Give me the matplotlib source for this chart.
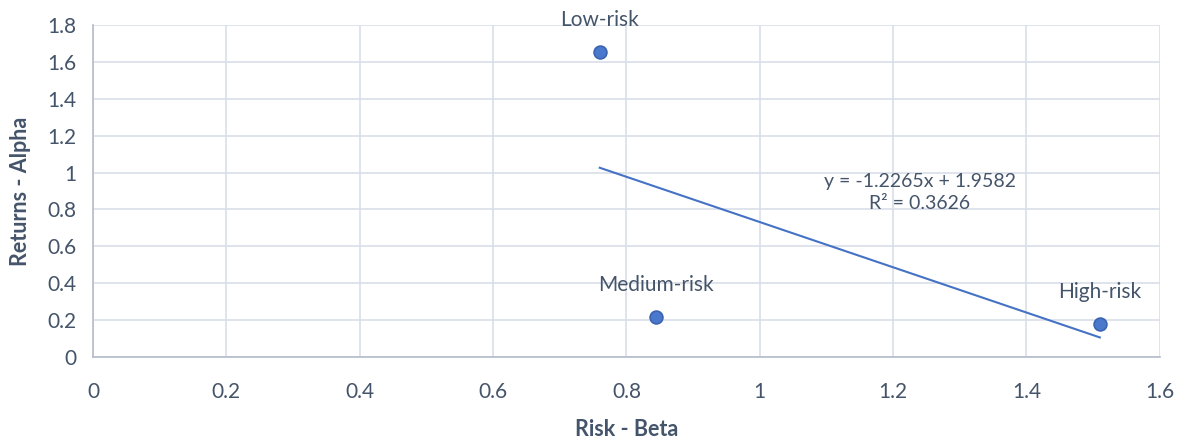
import matplotlib
matplotlib.use('Agg')
import matplotlib.pyplot as plt
import numpy as np

# ── Data ─────────────────────────────────────────────────────────────────────
labels = ['Low-risk', 'Medium-risk', 'High-risk']
beta   = [0.76, 0.845, 1.51]
alpha  = [1.655, 0.215, 0.18]

slope, intercept, r2 = -1.2265, 1.9582, 0.3626

text_col = '#44546A'
blue     = '#4472C4'
plt.rcParams['font.family'] = ['Lato', 'DejaVu Sans']

fig = plt.figure(figsize=(11.88, 4.4), dpi=100)
ax = fig.add_axes([0.0783, 0.1886, 0.898, 0.7546])

ax.scatter(beta, alpha, s=85, color='#4A78CC', edgecolors='#3A64B0',
           linewidths=1.2, zorder=3)
for b, a, lab in zip(beta, alpha, labels):
    ax.annotate(lab, xy=(b, a), xytext=(0, 23), textcoords='offset points',
                ha='center', va='center', fontsize=15, color=text_col)

# linear trendline over the data range
xs = np.array([min(beta), max(beta)])
ax.plot(xs, slope * xs + intercept, color=blue, lw=1.5, zorder=2)
ax.text(1.24, 0.89, f'y = {slope}x + {intercept}\nR² = {r2}',
        ha='center', va='center', fontsize=14, color=text_col, linespacing=1.35)

ax.set_xlim(0, 1.6)
ax.set_ylim(0, 1.8)
ax.set_xticks(np.arange(0, 1.61, 0.2))
ax.set_yticks(np.arange(0, 1.81, 0.2))
ax.xaxis.set_major_formatter(plt.FuncFormatter(lambda v, _: f'{v:g}'))
ax.yaxis.set_major_formatter(plt.FuncFormatter(lambda v, _: f'{v:g}'))
ax.tick_params(length=0, labelsize=15, colors=text_col, pad=12)
ax.tick_params(axis='x', pad=18)
ax.grid(color='#D9DEE8', lw=1.2, zorder=0)
ax.set_axisbelow(True)
for side in ['top', 'right']:
    ax.spines[side].set_visible(False)
for side in ['left', 'bottom']:
    ax.spines[side].set_color('#B4BCCB')
    ax.spines[side].set_linewidth(1.2)

ax.set_xlabel('Risk - Beta', fontsize=15.5, fontweight='bold', color=text_col, labelpad=12)
ax.set_ylabel('Returns - Alpha', fontsize=15.5, fontweight='bold', color=text_col, labelpad=12)

fig.savefig('out.png', dpi=100)
